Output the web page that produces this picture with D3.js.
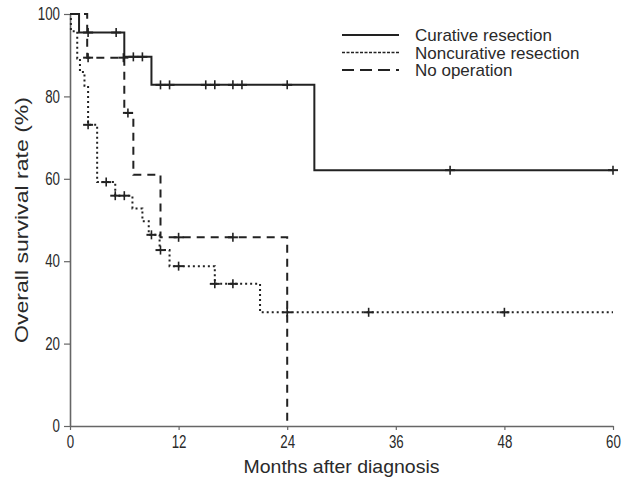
<!DOCTYPE html>
<meta charset="utf-8">
<style>
  body { margin: 0; background: #fff; }
  .tick text { font-family: "Liberation Sans", Arial, sans-serif; font-size: 18px; fill: #2a2a2a; }
  .title { font-family: "Liberation Sans", Arial, sans-serif; font-size: 19px; fill: #2a2a2a; }
  .legend text { font-family: "Liberation Sans", Arial, sans-serif; font-size: 17px; fill: #2a2a2a; }
</style>
<body>
<svg width="628" height="485"></svg>
<script src="https://d3js.org/d3.v7.min.js"></script>
<script>

// Kaplan-Meier steps: [month, survival %]
var curativeSteps = [[0, 100], [1, 95.5], [6, 89.6], [9, 82.8], [27, 62.1], [60, 62.1]];
var curativeCensor = [2, 5.1, 7, 8, 10, 11, 15, 16, 18, 19, 24, 42, 60];

var noncurativeSteps = [[0, 100], [0.1, 95.8], [0.8, 89.2], [1.1, 85.9], [1.6, 82.6], [2, 73.1],
  [3, 59.2], [5, 55.9], [6.9, 52.8], [8, 49.7], [8.7, 46.4], [9.9, 42.7], [11, 38.8],
  [16, 34.5], [21, 27.6], [60, 27.6]];
var noncurativeCensor = [2, 4, 5, 6, 9, 10, 12, 16, 18, 24, 33, 48];

var noOpSteps = [[0, 100], [1.9, 89.4], [6, 76], [7, 61], [10, 45.8], [24, 0]];
var noOpCensor = [2, 5.9, 6.4, 12, 18];

var xTicks = [0, 12, 24, 36, 48, 60];
var yTicks = [0, 20, 40, 60, 80, 100];

var legendLabels = ["Curative resection", "Noncurative resection", "No operation"];

var svg = d3.select("svg"),
    margin = {top: 14, right: 15, bottom: 59, left: 70},
    width = 628 - margin.left - margin.right,
    height = 485 - margin.top - margin.bottom;

var g = svg.append("g").attr("transform", "translate(" + margin.left + "," + margin.top + ")");

var x = d3.scaleLinear().domain([0, 60]).range([0, width]);
var y = d3.scaleLinear().domain([0, 100]).range([height, 0]);

// axes
var xAxis = g.append("g")
    .attr("transform", "translate(0," + height + ")")
    .call(d3.axisBottom(x).tickValues(xTicks).tickSize(4).tickPadding(5).tickSizeOuter(0));
var yAxis = g.append("g")
    .call(d3.axisLeft(y).tickValues(yTicks).tickSize(6).tickPadding(4).tickSizeOuter(0));

[xAxis, yAxis].forEach(function(a) {
  a.select(".domain").attr("stroke", "#666").attr("stroke-width", 1.6);
  a.selectAll(".tick line").attr("stroke", "#666").attr("stroke-width", 1.2);
  // the original uses a condensed face for the numbers
  a.selectAll(".tick text").each(function() {
    var s = d3.select(this);
    s.attr("textLength", s.text().length * 7.4).attr("lengthAdjust", "spacingAndGlyphs");
  });
});

// the groups
var groups = [
  {steps: curativeSteps, censor: curativeCensor, dash: null, width: 2},
  {steps: noncurativeSteps, censor: noncurativeCensor, dash: "2,3", width: 2},
  {steps: noOpSteps, censor: noOpCensor, dash: "8,6", width: 2}
];

var line = d3.line()
    .x(function(d) { return x(d[0]); })
    .y(function(d) { return y(d[1]); })
    .curve(d3.curveStepAfter);

function survivalAt(steps, t) {
  var v = steps[0][1];
  steps.forEach(function(s) { if (s[0] <= t) v = s[1]; });
  return v;
}

groups.forEach(function(grp) {
  g.append("path")
      .datum(grp.steps)
      .attr("fill", "none")
      .attr("stroke", "#222")
      .attr("stroke-width", grp.width)
      .attr("stroke-dasharray", grp.dash)
      .attr("d", line);

  var marks = g.append("g");
  grp.censor.forEach(function(t) {
    var cx = x(t), cy = y(survivalAt(grp.steps, t));
    marks.append("line")
        .attr("x1", cx).attr("x2", cx).attr("y1", cy - 4.5).attr("y2", cy + 4.5)
        .attr("stroke", "#222").attr("stroke-width", 1.6);
    marks.append("line")
        .attr("x1", cx - 5).attr("x2", cx + 5).attr("y1", cy).attr("y2", cy)
        .attr("stroke", "#222").attr("stroke-width", grp.width);
  });
});

// axis titles
svg.append("text")
    .attr("class", "title")
    .attr("x", margin.left + width / 2)
    .attr("y", 473)
    .attr("text-anchor", "middle")
    .attr("textLength", 196)
    .attr("lengthAdjust", "spacingAndGlyphs")
    .text("Months after diagnosis");

svg.append("text")
    .attr("class", "title")
    .attr("transform", "translate(28," + (margin.top + height / 2) + ") rotate(-90)")
    .attr("text-anchor", "middle")
    .attr("textLength", 246)
    .attr("lengthAdjust", "spacingAndGlyphs")
    .text("Overall survival rate (%)");

// legend
var legend = svg.append("g").attr("class", "legend");
legendLabels.forEach(function(label, i) {
  var ly = 35 + i * 17.5;
  legend.append("line")
      .attr("x1", 342).attr("x2", 399).attr("y1", ly).attr("y2", ly)
      .attr("stroke", "#222")
      .attr("stroke-width", i === 1 ? 1.3 : 2)
      .attr("stroke-dasharray", i === 0 ? null : (i === 1 ? "3,1.5" : "12,6"));
  legend.append("text")
      .attr("x", 415).attr("y", ly + 6)
      .text(label);
});

</script>
</body>
